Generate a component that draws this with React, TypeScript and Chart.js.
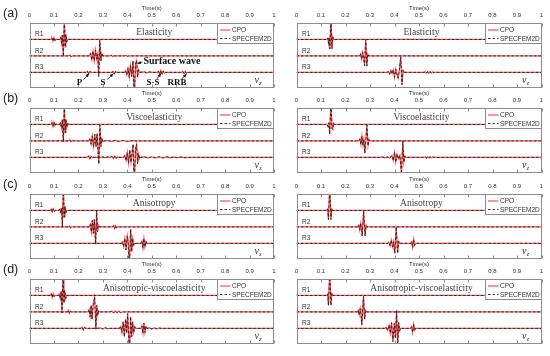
import React, { useEffect, useRef } from "react";
import { Chart, registerables } from "chart.js";
Chart.register(...registerables);

type Pt = [number, number];

// ---------------- data ----------------
const TIME_MIN = 0;
const TIME_MAX = 1;
const TIME_STEP = 0.1;
const AXIS_TITLE = "Time(s)";
const PANEL_TAGS = ["(a)", "(b)", "(c)", "(d)"];
const MODEL_NAMES = ["Elasticity", "Viscoelasticity", "Anisotropy", "Anisotropic-viscoelasticity"];
const RECEIVERS = ["R1", "R2", "R3"];
const RECEIVER_OFFSETS = [-1, -2, -3];
const SERIES_NAMES = ["CPO", "SPECFEM2D"];
const COMPONENT = ["v", "z"];

// Left column, (a) elasticity
const aL1: Pt[] = [[0,0],[0.088,0],[0.092,0.08],[0.096,-0.1],[0.1,0.12],[0.104,-0.06],[0.108,0.03],[0.112,0],[0.124,0],[0.128,0.12],[0.131,-0.22],[0.134,0.25],[0.1385,-1.02],[0.1425,1.45],[0.146,-0.45],[0.149,0.3],[0.152,-0.15],[0.156,0],[1,0]];
const aL2: Pt[] = [[0,0],[0.16,0],[0.165,0.05],[0.17,-0.05],[0.175,0],[0.245,0],[0.25,0.15],[0.255,-0.25],[0.26,0.3],[0.265,-0.3],[0.27,0.35],[0.275,-0.2],[0.279,0.1],[0.283,-1.25],[0.2875,0.95],[0.292,-0.3],[0.296,0.15],[0.3,0],[0.33,0],[0.335,0.04],[0.34,-0.04],[0.345,0],[0.39,0],[0.395,0.04],[0.4,-0.03],[0.405,0],[1,0]];
const aL3: Pt[] = [[0,0],[0.232,0],[0.237,0.07],[0.242,-0.08],[0.247,0.05],[0.252,0],[0.337,0],[0.342,0.05],[0.347,-0.08],[0.352,0.06],[0.357,0],[0.388,0],[0.393,0.1],[0.398,-0.15],[0.403,0.25],[0.408,-0.3],[0.413,0.4],[0.418,-0.25],[0.4235,0.7],[0.4285,-1.6],[0.4335,0.5],[0.438,0.72],[0.442,-0.3],[0.446,0.15],[0.45,0],[0.47,0.03],[0.48,-0.03],[0.49,0.03],[0.5,0],[0.522,0],[0.527,0.06],[0.532,-0.1],[0.537,0.12],[0.542,-0.1],[0.547,0.08],[0.552,-0.05],[0.557,0],[0.622,0],[0.627,0.05],[0.632,-0.06],[0.637,0.06],[0.642,-0.05],[0.647,0],[1,0]];
// Left column, (b) viscoelasticity
const bL1: Pt[] = [[0,0],[0.088,0],[0.092,0.1],[0.096,-0.12],[0.1,0.14],[0.104,-0.08],[0.108,0.04],[0.112,0],[0.123,0],[0.127,0.1],[0.131,-0.2],[0.134,0.3],[0.1385,-1.05],[0.1425,1.35],[0.146,-0.5],[0.149,0.3],[0.153,-0.15],[0.157,0.05],[0.161,0],[1,0]];
const bL2: Pt[] = [[0,0],[0.16,0],[0.165,0.06],[0.17,-0.05],[0.175,0.03],[0.18,0],[0.242,0],[0.247,0.12],[0.252,-0.2],[0.257,0.3],[0.262,-0.35],[0.267,0.4],[0.272,-0.35],[0.2765,0.45],[0.2835,-1.4],[0.288,0.95],[0.292,-0.35],[0.296,0.15],[0.3,-0.05],[0.305,0],[0.32,0.025],[0.335,-0.03],[0.35,0.03],[0.365,-0.025],[0.38,0.025],[0.4,-0.025],[0.42,0.02],[0.435,0],[1,0]];
const bL3: Pt[] = [[0,0],[0.237,0],[0.242,0.08],[0.247,-0.09],[0.252,0.05],[0.257,0],[0.29,0],[0.3,0.025],[0.31,-0.025],[0.32,0.025],[0.33,0],[0.337,0.06],[0.343,-0.08],[0.349,0.08],[0.355,-0.06],[0.361,0.04],[0.367,0],[0.385,0],[0.39,0.12],[0.395,-0.2],[0.4,0.3],[0.405,-0.35],[0.41,0.45],[0.415,-0.3],[0.419,0.2],[0.4235,0.8],[0.4285,-1.7],[0.4335,0.5],[0.438,0.8],[0.442,-0.4],[0.446,0.2],[0.45,-0.08],[0.455,0],[0.47,0.03],[0.485,-0.035],[0.5,0.035],[0.515,-0.03],[0.53,0.035],[0.545,-0.03],[0.56,0.03],[0.575,-0.02],[0.59,0.02],[0.605,-0.02],[0.62,0.02],[0.635,-0.015],[0.65,0],[1,0]];
// Left column, (c) anisotropy
const cL1: Pt[] = [[0,0],[0.085,0],[0.089,0.08],[0.093,-0.1],[0.097,0.1],[0.101,-0.05],[0.105,0],[0.121,0],[0.125,0.1],[0.129,-0.18],[0.1315,0.15],[0.1345,-1.0],[0.1385,1.5],[0.142,-0.4],[0.145,0.25],[0.148,-0.15],[0.152,0],[1,0]];
const cL2: Pt[] = [[0,0],[0.16,0],[0.164,0.05],[0.168,-0.04],[0.172,0],[0.245,0],[0.249,0.15],[0.253,-0.3],[0.257,0.4],[0.261,-0.4],[0.265,0.45],[0.2705,-1.05],[0.2745,1.0],[0.278,-0.3],[0.282,0.1],[0.286,0],[0.34,0],[0.344,0.08],[0.348,-0.1],[0.352,0.08],[0.356,-0.05],[0.36,0],[1,0]];
const cL3: Pt[] = [[0,0],[0.375,0],[0.38,0.1],[0.385,-0.2],[0.39,0.3],[0.395,-0.4],[0.4,0.45],[0.4035,0.1],[0.4085,-1.6],[0.4135,0.85],[0.418,-0.5],[0.422,0.3],[0.426,-0.12],[0.43,0],[0.456,0],[0.46,0.15],[0.464,-0.3],[0.468,0.3],[0.472,-0.22],[0.476,0.12],[0.48,0],[1,0]];
// Left column, (d) anisotropic-viscoelasticity
const dL1: Pt[] = [[0,0],[0.085,0],[0.089,0.1],[0.093,-0.12],[0.097,0.1],[0.101,-0.06],[0.105,0],[0.118,0],[0.122,0.1],[0.126,-0.2],[0.1295,0.25],[0.133,-1.05],[0.1375,1.5],[0.141,-0.45],[0.144,0.3],[0.148,-0.18],[0.152,0],[1,0]];
const dL2: Pt[] = [[0,0],[0.155,0],[0.159,0.1],[0.163,-0.08],[0.167,0.04],[0.171,0],[0.24,0],[0.244,0.15],[0.248,-0.3],[0.252,0.4],[0.256,-0.45],[0.2605,0.45],[0.2665,0.9],[0.2715,-1.05],[0.275,0.4],[0.279,-0.2],[0.283,0.06],[0.287,0],[0.33,0],[0.337,0.05],[0.344,-0.06],[0.351,0.06],[0.358,-0.05],[0.365,0.05],[0.372,-0.04],[0.38,0],[1,0]];
const dL3: Pt[] = [[0,0],[0.21,0],[0.215,0.08],[0.22,-0.1],[0.225,0.06],[0.23,0],[0.28,0],[0.29,0.035],[0.3,-0.035],[0.31,0.04],[0.32,-0.03],[0.33,0],[0.368,0],[0.373,0.12],[0.378,-0.25],[0.383,0.4],[0.388,-0.5],[0.393,0.55],[0.3975,-0.3],[0.4015,0.9],[0.4055,-0.4],[0.409,-1.6],[0.4135,0.7],[0.418,-0.5],[0.422,0.4],[0.426,-0.25],[0.43,0.1],[0.435,0],[0.456,0],[0.46,0.15],[0.464,-0.3],[0.468,0.32],[0.472,-0.25],[0.476,0.12],[0.481,0],[0.49,0.03],[0.5,-0.03],[0.51,0.03],[0.52,-0.025],[0.53,0.02],[0.54,0],[1,0]];

// Right column
const aR1: Pt[] = [[0,0],[0.125,0],[0.128,0.1],[0.131,-0.25],[0.134,0.12],[0.1365,-0.57],[0.1405,1.5],[0.1445,-0.57],[0.148,0.15],[0.152,0],[1,0]];
const aR2: Pt[] = [[0,0],[0.258,0],[0.262,0.12],[0.266,-0.2],[0.27,0.22],[0.274,-0.1],[0.278,-0.6],[0.2825,1.0],[0.287,-0.62],[0.291,0.12],[0.295,0],[1,0]];
const aR3: Pt[] = [[0,0],[0.37,0],[0.375,0.06],[0.38,-0.1],[0.385,0.12],[0.39,-0.08],[0.395,0.15],[0.4,-0.3],[0.405,0.2],[0.41,-0.1],[0.415,-0.35],[0.42,0.15],[0.4255,0.95],[0.4305,-0.75],[0.435,0.12],[0.44,0],[0.52,0],[0.525,0.03],[0.53,-0.04],[0.535,0.04],[0.54,-0.04],[0.545,0.04],[0.55,-0.03],[0.555,0.03],[0.56,-0.03],[0.565,0.02],[0.57,0],[1,0]];
const bR1: Pt[] = [[0,0],[0.125,0],[0.129,-0.15],[0.132,0.1],[0.1355,-0.6],[0.1405,1.4],[0.145,-0.25],[0.148,-0.3],[0.151,0.08],[0.155,0],[1,0]];
const bR2: Pt[] = [[0,0],[0.255,0],[0.259,0.12],[0.263,-0.22],[0.267,0.3],[0.271,-0.25],[0.275,0.1],[0.279,-0.75],[0.2875,0.95],[0.292,-0.3],[0.296,0.08],[0.3,0],[1,0]];
const bR3: Pt[] = [[0,0],[0.34,0],[0.35,0.025],[0.36,-0.03],[0.37,0.03],[0.38,-0.04],[0.39,0.1],[0.395,-0.2],[0.4,0.3],[0.405,-0.3],[0.41,0.2],[0.416,-0.1],[0.422,0.12],[0.4285,-1.0],[0.434,1.0],[0.438,-0.3],[0.442,0.08],[0.446,0],[0.52,0],[0.525,0.03],[0.53,-0.03],[0.535,0.03],[0.54,-0.03],[0.545,0.03],[0.55,-0.03],[0.555,0.02],[0.56,0],[1,0]];
const cR1: Pt[] = [[0,0],[0.124,0],[0.127,0.08],[0.1305,-0.55],[0.1355,1.5],[0.1405,-0.55],[0.144,0.1],[0.148,0],[1,0]];
const cR2: Pt[] = [[0,0],[0.25,0],[0.254,0.1],[0.258,-0.2],[0.262,0.22],[0.265,-0.1],[0.268,-0.55],[0.274,0.95],[0.28,-0.55],[0.284,0.1],[0.288,0],[1,0]];
const cR3: Pt[] = [[0,0],[0.372,0],[0.377,0.08],[0.382,-0.15],[0.387,0.2],[0.392,-0.2],[0.396,0.1],[0.401,-0.6],[0.407,1.0],[0.4125,-0.6],[0.417,0.12],[0.421,0],[0.466,0],[0.47,0.1],[0.474,-0.25],[0.478,0.25],[0.482,-0.12],[0.486,0],[1,0]];
const dR1: Pt[] = [[0,0],[0.124,0],[0.127,0.08],[0.1305,-0.6],[0.1355,1.5],[0.1405,-0.6],[0.144,0.12],[0.148,0],[1,0]];
const dR2: Pt[] = [[0,0],[0.248,0],[0.252,0.1],[0.256,-0.18],[0.26,0.2],[0.263,-0.1],[0.2665,-0.8],[0.2735,0.95],[0.278,-0.45],[0.282,0.1],[0.286,0],[1,0]];
const dR3: Pt[] = [[0,0],[0.36,0],[0.366,0.06],[0.372,-0.12],[0.378,0.2],[0.383,-0.3],[0.388,0.35],[0.3935,-0.8],[0.399,0.3],[0.4035,-0.6],[0.4085,1.1],[0.413,-1.1],[0.417,0.35],[0.421,-0.15],[0.425,0],[0.466,0],[0.47,0.1],[0.474,-0.25],[0.478,0.25],[0.482,-0.12],[0.486,0],[1,0]];

const LEFT_TRACES: Pt[][][] = [[aL1, aL2, aL3], [bL1, bL2, bL3], [cL1, cL2, cL3], [dL1, dL2, dL3]];
const RIGHT_TRACES: Pt[][][] = [[aR1, aR2, aR3], [bR1, bR2, bR3], [cR1, cR2, cR3], [dR1, dR2, dR3]];

// wave-phase annotations for panel (a), left
const WAVE_NAMES = ["P", "S", "Surface wave", "S-S", "RRB"];
const WAVE_TEXT_AT: Pt[] = [[0.2045, -3.62], [0.3006, -3.62], [0.466, -2.33], [0.505, -3.62], [0.603, -3.62]];
const WAVE_ARROW_FROM: Pt[] = [[0.221, -3.44], [0.318, -3.44], [0.462, -2.37], [0.52, -3.42], [0.62, -3.44]];
const WAVE_ARROW_TO: Pt[] = [[0.2434, -3.07], [0.3427, -3.07], [0.4417, -2.46], [0.538, -3.07], [0.642, -3.1]];

// ---------------- styles / layout ----------------
const Y_MIN = -3.95;
const RED = "#ff4d4d";
const DARK = "#1a1a1a";
const AXIS_COLOR = "#8c8c8c";
const TEXT_COLOR = "#333333";
const SANS = '"Liberation Sans", Arial, sans-serif';
const SERIF = '"Liberation Serif", "Times New Roman", serif';
const ROW_TOPS = [0, 85, 171, 256];
const COL_LEFTS = [0, 280];
const COL_WIDTHS = [280, 270];
const PAD_LEFT = [29.5, 16.5];
const PAD_RIGHT = [6, 8.5];
const CANVAS_H = 90;
const AXIS_H = 23;

function arrow(ctx: CanvasRenderingContext2D, x1: number, y1: number, x2: number, y2: number) {
  ctx.beginPath();
  ctx.moveTo(x1, y1);
  ctx.lineTo(x2, y2);
  ctx.stroke();
  const ang = Math.atan2(y2 - y1, x2 - x1);
  const L = 3.5, W = 1.6;
  ctx.beginPath();
  ctx.moveTo(x2, y2);
  ctx.lineTo(x2 - L * Math.cos(ang) + W * Math.sin(ang), y2 - L * Math.sin(ang) - W * Math.cos(ang));
  ctx.lineTo(x2 - L * Math.cos(ang) - W * Math.sin(ang), y2 - L * Math.sin(ang) + W * Math.cos(ang));
  ctx.closePath();
  ctx.fill();
}

const overlayPlugin = {
  id: "overlay",
  afterDraw(chart: any, _args: any, opts: any) {
    const { ctx, chartArea: a, scales } = chart;
    const xs = scales.x;
    const ys = scales.y;
    const row: number = opts.row;
    const col: number = opts.col;
    ctx.save();
    ctx.setLineDash([]);
    // box
    ctx.strokeStyle = AXIS_COLOR;
    ctx.lineWidth = 1;
    const L = Math.round(a.left) + 0.5, T = Math.round(a.top) + 0.5;
    const R = Math.round(a.right) - 0.5, B = Math.round(a.bottom) - 0.5;
    ctx.strokeRect(L, T, R - L, B - T);
    // inward ticks (top & bottom)
    ctx.beginPath();
    xs.ticks.forEach((tk: any) => {
      const px = Math.round(xs.getPixelForValue(tk.value)) + 0.5;
      ctx.moveTo(px, T);
      ctx.lineTo(px, T + 3);
      ctx.moveTo(px, B);
      ctx.lineTo(px, B - 3);
    });
    ctx.stroke();

    // legend
    const lw = 56, lh = 20;
    const lx = R - lw, ly = T;
    ctx.fillStyle = "#fff";
    ctx.fillRect(lx, ly, lw, lh);
    ctx.strokeStyle = AXIS_COLOR;
    ctx.strokeRect(lx, ly, lw, lh);
    const ds = chart.data.datasets;
    const entries = SERIES_NAMES.map((n) => ds.find((d: any) => d.label === n));
    ctx.font = `6.5px ${SANS}`;
    ctx.textBaseline = "middle";
    ctx.textAlign = "left";
    entries.forEach((d: any, i: number) => {
      const yy = ly + 6.5 + i * 8.5;
      ctx.strokeStyle = d.borderColor;
      ctx.lineWidth = d.borderWidth;
      ctx.setLineDash(d.borderDash || []);
      ctx.beginPath();
      ctx.moveTo(lx + 2.5, yy);
      ctx.lineTo(lx + 13, yy);
      ctx.stroke();
      ctx.setLineDash([]);
      ctx.fillStyle = TEXT_COLOR;
      ctx.fillText(d.label, lx + 14.5, yy + 0.3);
    });

    // model title
    ctx.fillStyle = "#444";
    ctx.font = `9.5px ${SERIF}`;
    ctx.textAlign = "center";
    ctx.fillText(MODEL_NAMES[row], a.left + (a.right - a.left) * 0.51, a.top + 9.5);

    // receiver labels
    ctx.font = `6.5px ${SANS}`;
    ctx.textAlign = "left";
    ctx.fillStyle = TEXT_COLOR;
    RECEIVERS.forEach((r, i) => {
      ctx.fillText(r, a.left + 5.5, ys.getPixelForValue(RECEIVER_OFFSETS[i]) - 5);
    });

    // component label v_z
    ctx.textBaseline = "alphabetic";
    ctx.font = `italic 10px ${SERIF}`;
    const vx = a.right - 19.5, vy = a.bottom - 5.5;
    ctx.fillText(COMPONENT[0], vx, vy);
    const vw = ctx.measureText(COMPONENT[0]).width;
    ctx.font = `italic 6px ${SERIF}`;
    ctx.fillText(COMPONENT[1], vx + vw + 0.3, vy + 2);

    // panel tag
    if (col === 0) {
      ctx.font = `12.5px ${SANS}`;
      ctx.textBaseline = "middle";
      ctx.fillStyle = "#222";
      ctx.fillText(PANEL_TAGS[row], 3, 14);
    }

    // wave annotations
    if (row === 0 && col === 0) {
      ctx.fillStyle = "#111";
      ctx.strokeStyle = "#111";
      ctx.lineWidth = 0.8;
      ctx.textBaseline = "middle";
      WAVE_NAMES.forEach((name, i) => {
        const big = name.length > 4;
        ctx.font = `bold ${big ? 10 : 9}px ${SERIF}`;
        ctx.textAlign = big ? "left" : "center";
        ctx.fillText(name, xs.getPixelForValue(WAVE_TEXT_AT[i][0]), ys.getPixelForValue(WAVE_TEXT_AT[i][1]));
        arrow(
          ctx,
          xs.getPixelForValue(WAVE_ARROW_FROM[i][0]),
          ys.getPixelForValue(WAVE_ARROW_FROM[i][1]),
          xs.getPixelForValue(WAVE_ARROW_TO[i][0]),
          ys.getPixelForValue(WAVE_ARROW_TO[i][1])
        );
      });
    }
    ctx.restore();
  },
};

// Chart.js draws dataset 0 last (on top): put the dashed SPECFEM2D traces first.
function buildDatasets(traces: Pt[][]) {
  const black = traces.map((tr, i) => ({
    label: SERIES_NAMES[1],
    data: tr.map(([t, v]) => ({ x: t, y: v + RECEIVER_OFFSETS[i] })),
    borderColor: DARK,
    borderWidth: 0.85,
    borderDash: [2.5, 2],
    pointRadius: 0,
    fill: false,
    tension: 0,
  }));
  const red = traces.map((tr, i) => ({
    label: SERIES_NAMES[0],
    data: tr.map(([t, v]) => ({ x: t, y: v + RECEIVER_OFFSETS[i] })),
    borderColor: RED,
    borderWidth: 1.2,
    pointRadius: 0,
    fill: false,
    tension: 0,
  }));
  return [...black, ...red];
}

function Panel({ row, col }: { row: number; col: number }) {
  const ref = useRef<HTMLCanvasElement>(null);
  useEffect(() => {
    const traces = col === 0 ? LEFT_TRACES[row] : RIGHT_TRACES[row];
    const chart = new Chart(ref.current as HTMLCanvasElement, {
      type: "line",
      data: { datasets: buildDatasets(traces) as any },
      options: {
        responsive: false,
        animation: false,
        devicePixelRatio: 1,
        events: [],
        layout: { padding: { left: PAD_LEFT[col], right: PAD_RIGHT[col], top: 0, bottom: 2 } },
        plugins: {
          legend: { display: false },
          tooltip: { enabled: false },
          title: { display: false },
          overlay: { row, col },
        } as any,
        scales: {
          x: {
            type: "linear",
            position: "top",
            min: TIME_MIN,
            max: TIME_MAX,
            grid: { display: false, drawTicks: false },
            border: { display: false },
            ticks: {
              stepSize: TIME_STEP,
              autoSkip: false,
              maxRotation: 0,
              padding: 4,
              color: TEXT_COLOR,
              font: { family: SANS, size: 6 },
              callback: (v: any) => String(Math.round(Number(v) * 10) / 10),
            },
            title: {
              display: true,
              text: AXIS_TITLE,
              color: TEXT_COLOR,
              font: { family: SANS, size: 6 },
              padding: { top: 4.4, bottom: 0 },
            },
            afterFit: (s: any) => {
              s.height = AXIS_H;
            },
          } as any,
          y: { type: "linear", display: false, min: Y_MIN, max: 0 },
        },
      },
      plugins: [overlayPlugin as any],
    });
    return () => chart.destroy();
  }, [row, col]);
  return (
    <canvas
      ref={ref}
      width={COL_WIDTHS[col]}
      height={CANVAS_H}
      style={{ position: "absolute", left: COL_LEFTS[col], top: ROW_TOPS[row], width: COL_WIDTHS[col], height: CANVAS_H }}
    />
  );
}

export default function App() {
  const cells: React.ReactNode[] = [];
  for (let r = 0; r < 4; r++) for (let c = 0; c < 2; c++) cells.push(<Panel key={`${r}-${c}`} row={r} col={c} />);
  return (
    <div style={{ position: "absolute", left: 0, top: 0, width: 550, height: 356, background: "#fff", overflow: "hidden" }}>
      {cells}
    </div>
  );
}
